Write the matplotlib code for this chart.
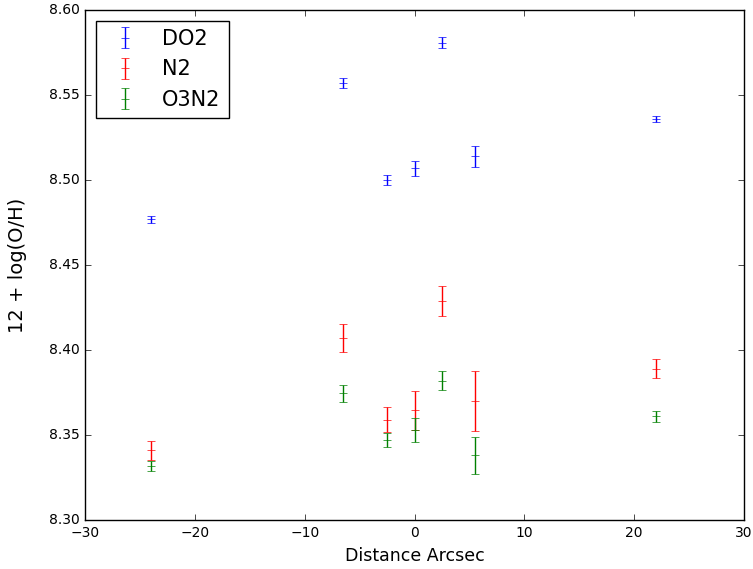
import matplotlib
matplotlib.use('Agg')
from matplotlib import pyplot as plt

plt.style.use('classic')

# distance along slit (arcsec)
dist = [-24.0, -6.5, -2.5, 0.0, 2.5, 5.5, 22.0]

do2 = [8.477, 8.557, 8.500, 8.507, 8.581, 8.514, 8.536]
do2_err = [0.002, 0.003, 0.003, 0.0045, 0.003, 0.0063, 0.002]

n2 = [8.341, 8.407, 8.359, 8.3645, 8.429, 8.370, 8.389]
n2_err = [0.0058, 0.0082, 0.0073, 0.0116, 0.009, 0.0177, 0.0056]

o3n2 = [8.332, 8.3745, 8.347, 8.353, 8.382, 8.338, 8.361]
o3n2_err = [0.003, 0.005, 0.0042, 0.0073, 0.0056, 0.0107, 0.0031]

fig = plt.figure(figsize=(7.53, 5.69), dpi=100, facecolor='white')
ax = fig.add_axes([0.113, 0.086, 0.875, 0.896])

ax.errorbar(dist, do2, yerr=do2_err, fmt='_', color='b', mec='b',
            capsize=3, label='DO2')
ax.errorbar(dist, n2, yerr=n2_err, fmt='_', color='r', mec='r',
            capsize=3, label='N2')
ax.errorbar(dist, o3n2, yerr=o3n2_err, fmt='_', color='g', mec='g',
            capsize=3, label='O3N2')

ax.set_xlim(-30, 30)
ax.set_ylim(8.30, 8.60)
ax.set_yticks([8.30, 8.35, 8.40, 8.45, 8.50, 8.55, 8.60])
ax.set_yticklabels(['8.30', '8.35', '8.40', '8.45', '8.50', '8.55', '8.60'])
ax.tick_params(labelsize=10)
ax.set_xlabel('Distance Arcsec', fontsize=12.5)
ax.set_ylabel('12 + log(O/H)', fontsize=14)
ax.yaxis.set_label_coords(-0.088, 0.5)

ax.legend(loc='upper left', numpoints=1, fontsize=15)

fig.savefig('out.png', dpi=100, facecolor='white')
